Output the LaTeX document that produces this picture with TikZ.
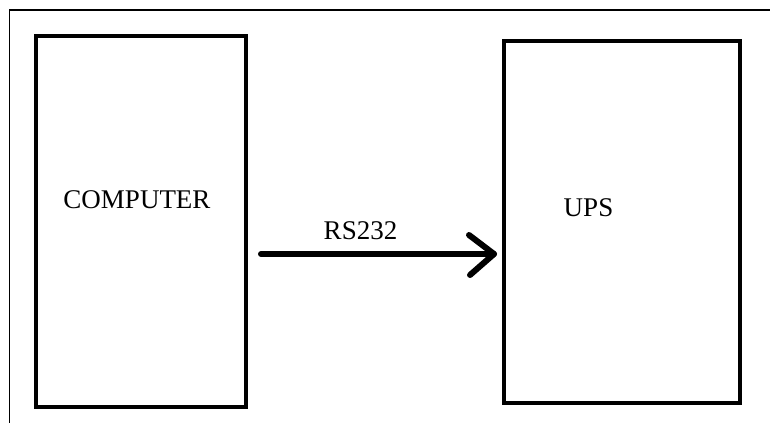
\documentclass[tikz,border=0pt]{standalone}
\usepackage{fontspec}
\setmainfont{Liberation Serif}
\begin{document}
\begin{tikzpicture}[x=1pt,y=-1pt,
  blockbox/.style={draw=black, line width=4pt, rectangle, inner sep=0pt, outer sep=0pt},
  lbl/.style={font=\fontsize{27}{27}\selectfont, inner sep=0pt, anchor=center},
  framerule/.style={draw=black, line width=1.5pt},
  link/.style={draw=black, line width=6pt, line cap=round, line join=round}]
\useasboundingbox (0,0) rectangle (770,423);
% partial frame
\coordinate (fr) at (770,10);
\coordinate (fc) at (9.5,10);
\coordinate (fb) at (9.5,423);
\draw[framerule] (fr) -- (fc) -- (fb);
% boxes
\node[blockbox, minimum width=210.5pt, minimum height=371pt] (comp) at (140.75,221.5) {};
\node[blockbox, minimum width=236pt, minimum height=362.5pt] (ups) at (622,221.75) {};
% labels
\node[lbl] (complbl) at (137,200) {COMPUTER};
\node[lbl] (upslbl) at (588.5,208) {UPS};
\node[lbl] (rslbl) at (360.5,230.5) {RS232};
% arrow
\coordinate (src) at (261,254);
\coordinate (tip) at (494,254);
\draw[link] (src) -- (tip);
\draw[link] ([shift={(-25,-19)}]tip) -- (tip) -- ([shift={(-24,21)}]tip);
\end{tikzpicture}
\end{document}
